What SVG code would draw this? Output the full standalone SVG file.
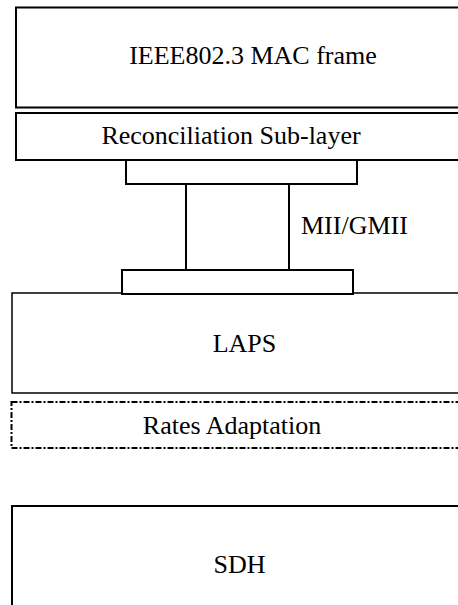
<svg xmlns="http://www.w3.org/2000/svg" width="458" height="605" viewBox="0 0 458 605">
<style>
  .box{fill:#fff;stroke:#000;stroke-width:2}
  .thin{fill:#fff;stroke:#000;stroke-width:1.5}
  .dash{fill:#fff;stroke:#000;stroke-width:2;stroke-dasharray:6 2 2 2}
  .c{text-anchor:middle}
</style>
<rect width="458" height="605" fill="#fff"/>
<g id="mac-frame">
  <rect class="box" x="16" y="7.5" width="460" height="100"/>
  <text class="c" font-family="Liberation Serif" font-size="26" x="253" y="64">IEEE802.3 MAC frame</text>
</g>
<g id="reconciliation">
  <rect class="box" x="16" y="113" width="460" height="47"/>
  <text class="c" font-family="Liberation Serif" font-size="26" x="231" y="144">Reconciliation Sub-layer</text>
</g>
<g id="mii-gmii">
  <rect class="box" x="126" y="160" width="231" height="24"/>
  <rect class="box" x="186" y="184" width="103" height="86"/>
  <text font-family="Liberation Serif" font-size="26" x="301" y="234">MII/GMII</text>
</g>
<g id="laps">
  <rect class="thin" x="12" y="293" width="460" height="100"/>
  <rect class="box" x="122" y="270" width="231" height="24"/>
  <text class="c" font-family="Liberation Serif" font-size="26" x="244.5" y="352">LAPS</text>
</g>
<g id="rates-adaptation">
  <rect class="dash" x="11.5" y="402" width="460" height="46"/>
  <text class="c" font-family="Liberation Serif" font-size="26" x="232" y="434">Rates Adaptation</text>
</g>
<g id="sdh">
  <rect class="box" x="12" y="506" width="460" height="120"/>
  <text class="c" font-family="Liberation Serif" font-size="26" x="239.5" y="573">SDH</text>
</g>
<g id="connectors"></g>
</svg>
